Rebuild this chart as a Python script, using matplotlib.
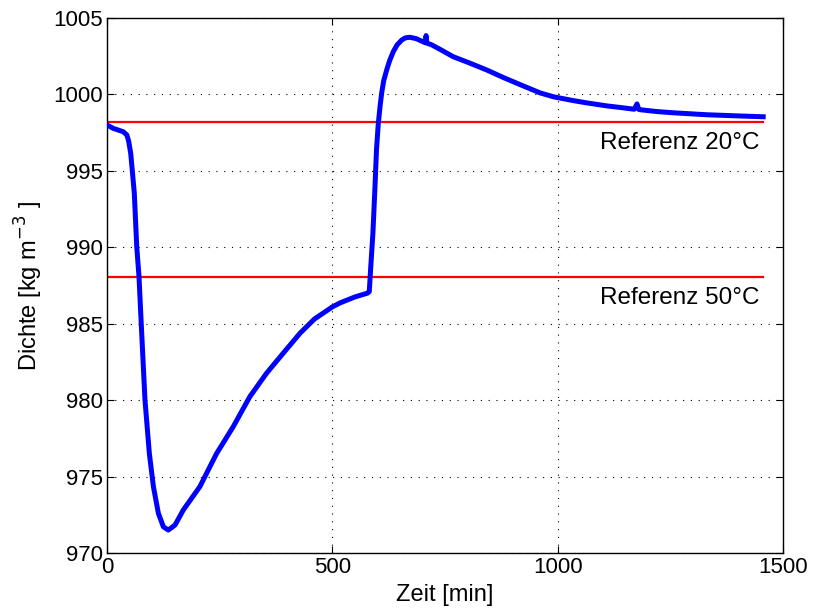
import matplotlib
matplotlib.use("Agg")
import matplotlib.pyplot as plt

# Time [min]
zeit = [0, 14, 36, 44, 48, 52.6, 56, 60.6, 66, 71, 77, 84.3, 94, 103, 114, 125, 136,
        151, 169, 206, 243, 280, 317, 354, 391, 428, 460, 500, 517, 550, 578,
        582, 585, 590, 594.7, 598, 602, 606, 609.5, 614, 620.6, 627, 635.3, 644,
        654, 662, 672, 686, 701, 706, 708, 710, 720, 739, 768,
        805, 842.5, 880, 916, 961, 990, 1034, 1064, 1109, 1138, 1170, 1176, 1180,
        1183, 1220, 1256, 1331, 1405, 1456]
# Density [kg m^-3]
dichte = [998.0, 997.78, 997.56, 997.35, 996.95, 996.15, 995.06, 993.53, 990.04, 988.08,
          984.37, 980.0, 976.5, 974.34, 972.6, 971.72, 971.5,
          971.83, 972.8, 974.34, 976.5, 978.26, 980.23, 981.76, 983.07, 984.37,
          985.3, 986.1, 986.36, 986.75, 987.0,
          987.1, 988.6, 990.9, 994.0, 996.4, 998.1, 999.25, 1000.1, 1000.9,
          1001.6, 1002.2, 1002.8, 1003.25, 1003.56, 1003.7, 1003.74, 1003.65,
          1003.45, 1003.38, 1003.85, 1003.35, 1003.25, 1002.95, 1002.47,
          1002.05, 1001.6, 1001.1, 1000.65, 1000.1, 999.85, 999.6, 999.45,
          999.25, 999.15, 999.03, 999.38, 999.02, 999.0, 998.88, 998.8, 998.67,
          998.59, 998.54]

ref_labels = ["Referenz 20°C", "Referenz 50°C"]
ref_values = [998.2, 988.05]
ref_xrange = [0, 1456]

xticks = [0, 500, 1000, 1500]
yticks = [970, 975, 980, 985, 990, 995, 1000, 1005]

plt.rcParams['font.family'] = ['Liberation Sans', 'DejaVu Sans']

fig = plt.figure(figsize=(8.13, 6.10), dpi=100)
ax = fig.add_axes([107/813, 1 - 553/610, (783-107)/813, (553-18)/610])

ax.plot(zeit, dichte, color='#0000ff', lw=3.6, solid_joinstyle='round', zorder=3)
for lab, v in zip(ref_labels, ref_values):
    ax.plot(ref_xrange, [v, v], color='#ff0000', lw=1.6, zorder=2)
    ax.annotate(lab, xy=(ref_xrange[1], v), xytext=(-3, -7), textcoords='offset points',
                ha='right', va='top', fontsize=17.5)

ax.set_xlim(0, 1500)
ax.set_ylim(970, 1005)
ax.set_xticks(xticks)
ax.set_yticks(yticks)
ax.tick_params(direction='in', top=True, right=True, length=5, width=0.8,
               labelsize=16, pad=3)
ax.grid(True, color='black', linestyle=(0, (1, 6)), linewidth=0.8)
for s in ax.spines.values():
    s.set_linewidth(1.0)

ax.set_xlabel("Zeit [min]", fontsize=17, labelpad=4)
ax.set_ylabel("Dichte [kg m$^{-3}$ ]", fontsize=17, labelpad=6)

fig.savefig("out.png", dpi=100)
